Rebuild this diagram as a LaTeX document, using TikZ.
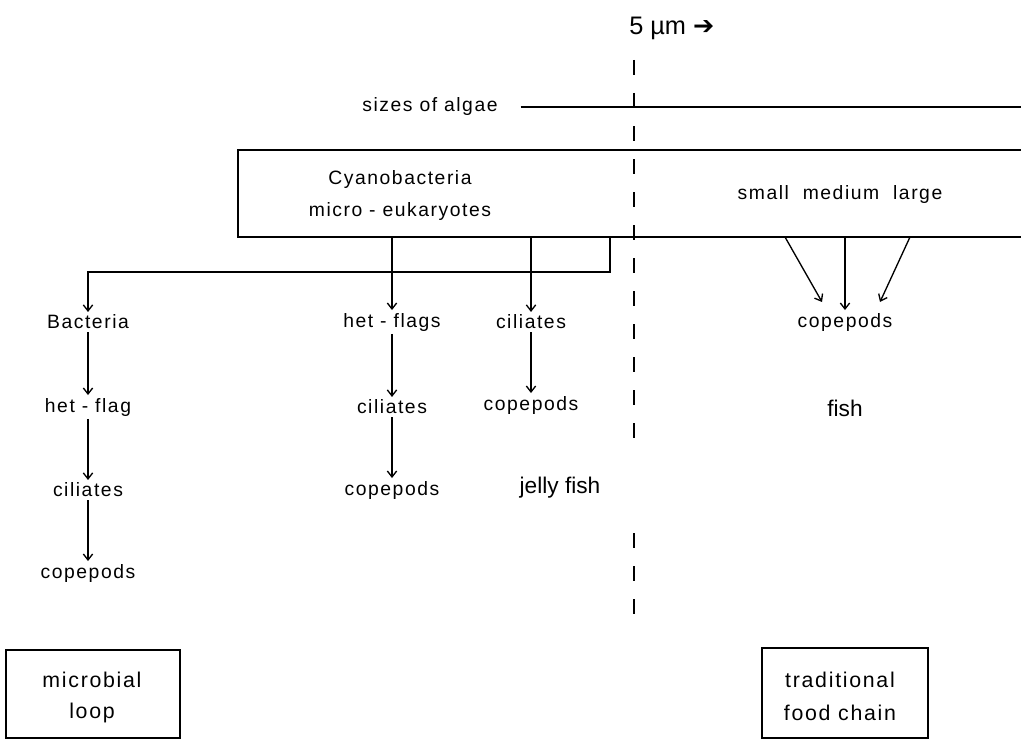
\documentclass[tikz,border=0pt]{standalone}
\usepackage{fontspec}
\setmainfont{Liberation Sans}
\newfontfamily\spaced[LetterSpace=8]{Liberation Sans}
\newfontfamily\symb{DejaVu Sans}
\usetikzlibrary{arrows.meta}
\tikzset{
  lbl/.style={inner sep=2pt, font=\spaced\fontsize{14.5pt}{17pt}\selectfont},
  big/.style={inner sep=2pt, font=\fontsize{17pt}{20pt}\selectfont},
  hand/.style={inner sep=0pt, font=\spaced\fontsize{16pt}{18pt}\selectfont},
  arr/.style={line width=1pt, -{Straight Barb[length=4.5pt,width=7pt]}},
  ln/.style={line width=1pt},
  dsh/.style={line width=1.2pt, dash pattern=on 11.25pt off 13.5pt},
  frame/.style={line width=1pt}
}
\begin{document}
\begin{tikzpicture}[x=0.75pt,y=-0.75pt]
\useasboundingbox (0,0) rectangle (1021,742);
% title
\node[anchor=west, font=\fontsize{19pt}{21pt}\selectfont, inner sep=0pt] (title) at (629,28) {5 µm {\symb ➔}};
% dashed divider
\coordinate (d1) at (634,60);
\coordinate (d2) at (634,440);
\coordinate (d3) at (634,533);
\coordinate (d4) at (634,614);
\draw[dsh] (d1) -- (d2);
\draw[dsh] (d3) -- (d4);
% sizes of algae
\node[lbl] (sizes) at (430,107) {sizes of algae};
\coordinate (sz2) at (1021,107);
\draw[ln] ([xshift=15]sizes.east) -- (sz2);
% big box (open on right)
\coordinate (bx1) at (1021,150);
\coordinate (bx2) at (238,150);
\coordinate (bx3) at (238,237);
\coordinate (bx4) at (1021,237);
\draw[frame] (bx1) -- (bx2) -- (bx3) -- (bx4);
\node[lbl] (cyano) at (400,180) {Cyanobacteria};
\node[lbl] (micro) at (400,211) {micro - eukaryotes};
\node[lbl] (sml) at (840,195) {small\ \ medium\ \ large};
% left column
\node[lbl] (bac) at (88,322) {Bacteria};
\node[lbl] (hf1) at (88,407) {het - flag};
\node[lbl] (cil1) at (88,490) {ciliates};
\node[lbl] (cop1) at (88,573) {copepods};
% middle column
\node[lbl] (hf2) at (392,322) {het - flags};
\node[lbl] (cil2) at (392,407) {ciliates};
\node[lbl] (cop2) at (392,490) {copepods};
% third column
\node[lbl] (cil3) at (531,322) {ciliates};
\node[lbl] (cop3) at (531,405) {copepods};
\node[big] (jelly) at (560,488) {jelly fish};
% right column
\node[lbl] (cop4) at (845,322) {copepods};
\node[big] (fish) at (845,408) {fish};
% branch from box
\coordinate (b1) at (610,237);
\coordinate (b2) at (610,272);
\coordinate (b3) at (88,272);
\draw[arr] (b1) -- (b2) -- (b3) -- (bac.north);
\coordinate (m1) at (392,237);
\draw[arr] (m1) -- (hf2.north);
\coordinate (c1) at (531,237);
\draw[arr] (c1) -- (cil3.north);
% chains
\draw[arr] (bac) -- (hf1);
\draw[arr] (hf1) -- (cil1);
\draw[arr] (cil1) -- (cop1);
\draw[arr] (hf2) -- (cil2);
\draw[arr] (cil2) -- (cop2);
\draw[arr] (cil3) -- (cop3);
% right arrows
\coordinate (r1) at (785,237);
\coordinate (r2) at (845,237);
\coordinate (r3) at (910,237);
\coordinate (t1) at (822,302);
\coordinate (t3) at (880,302);
\draw[arr] (r1) -- (t1);
\draw[arr] (r2) -- (cop4.north);
\draw[arr] (r3) -- (t3);
% bottom boxes
\draw[frame] (6,650) rectangle (180,738);
\node[hand] (mloop1) at (92,680) {microbial};
\node[hand] (mloop2) at (92,713) {loop};
\draw[frame] (762,648) rectangle (928,738);
\node[hand] (tfc1) at (840,680) {traditional};
\node[hand] (tfc2) at (840,713) {food chain};
\end{tikzpicture}
\end{document}
